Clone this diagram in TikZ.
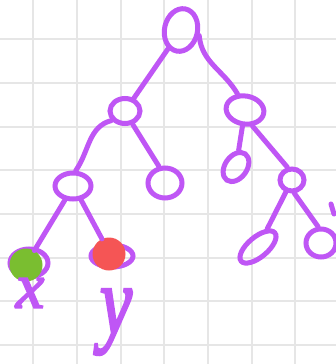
\documentclass[tikz,border=0pt]{standalone}
\usepackage{fontspec}
\newfontfamily\hand[FakeBold=3]{Liberation Serif}
\usetikzlibrary{shapes.geometric}
\definecolor{pen}{RGB}{191,86,245}
\definecolor{gridc}{RGB}{230,230,230}
\definecolor{leafg}{RGB}{122,190,48}
\definecolor{leafr}{RGB}{245,85,85}
\tikzset{
  nd/.style={draw=pen, line width=5pt, ellipse, inner sep=0pt},
  edge/.style={draw=pen, line width=5pt, line cap=round},
  dot/.style={circle, fill=#1, inner sep=0pt, minimum size=33pt},
  lbl/.style={text=pen, inner sep=0pt}
}
\begin{document}
\begin{tikzpicture}[x=1pt,y=-1pt]
\useasboundingbox (0,0) rectangle (336,364);
\fill[white] (0,0) rectangle (336,364);
% grid
\foreach \gx in {33,77,121,164,208,252,295}
  \draw[gridc, line width=1.6pt] (\gx,0) -- (\gx,364);
\foreach \gy in {39,83,127,170,214,258,301,345}
  \draw[gridc, line width=1.6pt] (0,\gy) -- (336,\gy);
% nodes
\node[nd, minimum width=33pt, minimum height=43pt, rotate=-12] (root) at (181,30) {};
\node[nd, minimum width=30pt, minimum height=25pt] (A) at (125,111) {};
\node[nd, minimum width=38pt, minimum height=28pt, rotate=-10] (B) at (245,110) {};
\node[nd, minimum width=36pt, minimum height=26pt] (C) at (73,186) {};
\node[nd, minimum width=34pt, minimum height=30pt] (D) at (165,183) {};
\node[nd, minimum width=22pt, minimum height=32pt, rotate=-35] (E) at (236,167) {};
\node[nd, minimum width=24pt, minimum height=22pt] (F) at (292,180) {};
\node[nd, minimum width=44pt, minimum height=20pt, rotate=40] (G) at (258,247) {};
\node[nd, minimum width=30pt, minimum height=28pt] (H) at (321,243) {};
\node[nd, minimum width=38pt, minimum height=28pt] (xo) at (29,263) {};
\node[nd, minimum width=42pt, minimum height=22pt] (yo) at (112,256) {};
\node[dot=leafg] (xf) at (26,265) {};
\node[dot=leafr] (yf) at (109,254) {};
% edges
\draw[edge] (root) -- (A);
\draw[edge] (root.-5) to[out=-85,in=120] (B.125);
\draw[edge] (A.215) to[out=195,in=55] (C.80);
\draw[edge] (A.-60) -- (D.110);
\draw[edge] (B) -- (E);
\draw[edge] (B.-55) -- (F.110);
\draw[edge] (C.-120) -- (xf.60);
\draw[edge] (C.-60) -- (yf.115);
\draw[edge] (F) -- (G);
\draw[edge] (F.-80) -- (H.100);
\coordinate (m1) at (331,204);
\coordinate (m2) at (334,214);
\draw[edge] (m1) -- (m2);
% labels
\node[lbl, font=\hand\itshape\fontsize{64}{64}\selectfont] (lx) at (30,293) {x};
\node[lbl, font=\hand\itshape\fontsize{72}{72}\selectfont, yscale=1.35] (ly) at (116,322) {y};
\end{tikzpicture}
\end{document}
